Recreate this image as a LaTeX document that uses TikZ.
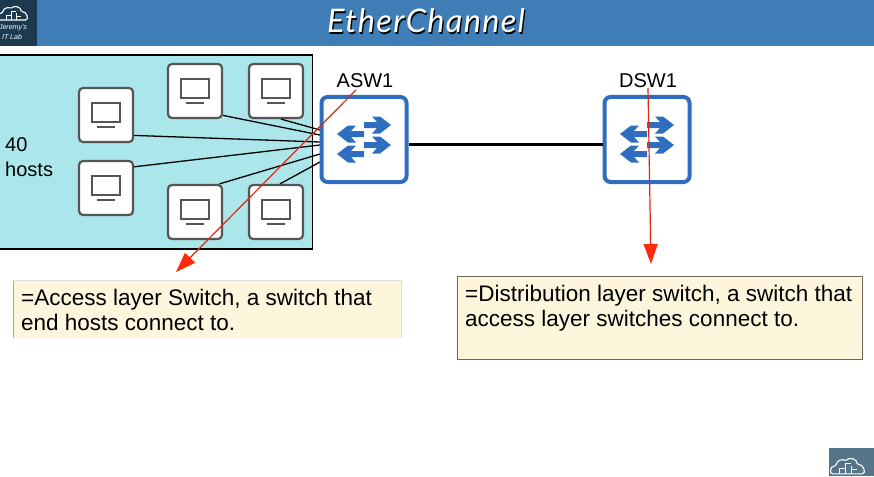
\documentclass[tikz,border=0pt]{standalone}
\usepackage{fontspec}
\setmainfont{Liberation Sans}
\newfontfamily\titlef[LetterSpace=4]{Lato}
\usetikzlibrary{arrows.meta}
\definecolor{hdr}{HTML}{3F7DB6}
\definecolor{logod}{HTML}{1B3A50}
\definecolor{logol}{HTML}{567488}
\definecolor{panel}{HTML}{ABE6EB}
\definecolor{hostc}{HTML}{555555}
\definecolor{swc}{HTML}{2F6DBE}
\definecolor{redl}{HTML}{E0280F}
\definecolor{redh}{HTML}{FF2A0A}
\definecolor{note}{HTML}{FEF6DC}
\tikzset{
  x=1pt,y=-1pt,
  hostbox/.style={draw=hostc,line width=2.2pt,fill=white,rounded corners=4pt,minimum width=54pt,minimum height=54pt,inner sep=0pt},
  swbox/.style={draw=swc,line width=4pt,fill=white,rounded corners=6pt,minimum width=85pt,minimum height=85pt,inner sep=0pt},
  link/.style={draw=black,line width=1.3pt},
  trunk/.style={draw=black,line width=3pt},
  callout/.style={draw=redl,line width=1.2pt,-{Triangle[length=20pt,width=14pt,color=redh]}},
  lbl/.style={font=\fontsize{20}{25}\selectfont,inner sep=0pt,text=black},
  notetext/.style={font=\fontsize{22.5}{25}\selectfont,inner sep=0pt,anchor=north west,align=left,text=black},
  pics/screen/.style={code={
    \draw[hostc,line width=1.6pt,fill=white] (-14,-12) rectangle (14,7);
    \draw[hostc,line width=1.6pt] (-9,12) -- (9,12);
  }},
  pics/swarrows/.style={code={
    \fill[swc] (44,26) -- (57,26) -- (52,20.5) -- (60,20.5) -- (71,29) -- (60,37.5) -- (52,37.5) -- (57,32) -- (44,32) -- cycle;
    \fill[swc] (44,46) -- (57,46) -- (52,40.5) -- (60,40.5) -- (71,49) -- (60,57.5) -- (52,57.5) -- (57,52) -- (44,52) -- cycle;
    \fill[swc] (44,35) -- (31,35) -- (36,29.5) -- (28,29.5) -- (17,38) -- (28,46.5) -- (36,46.5) -- (31,41) -- (44,41) -- cycle;
    \fill[swc] (44,55) -- (31,55) -- (36,49.5) -- (28,49.5) -- (17,58) -- (28,66.5) -- (36,66.5) -- (31,61) -- (44,61) -- cycle;
  }},
  pics/cloud/.style={code={
    \draw[white,line width=1.1pt,rounded corners=1.5pt] (-13,6) .. controls (-17,6) and (-17,-1) .. (-11,-1) .. controls (-11,-6) and (-5,-7) .. (-3,-5) .. controls (0,-9) and (7,-7) .. (7,-2) .. controls (12,-3) and (16,6) .. (10,6) -- cycle;
    \draw[white,line width=.8pt] (-8,6) -- (-8,1) -- (-3,1) (-3,6) -- (-3,-3) -- (2,-3) (2,6) -- (2,-1) (2,2) -- (7,2);
  }}
}
\begin{document}
\begin{tikzpicture}
\clip (0,0) rectangle (874,476);
\fill[white] (0,0) rectangle (874,476);
% header
\fill[hdr] (0,0) rectangle (874,46);
\fill[logod] (0,0) rectangle (37,46);
\pic at (14,14) {cloud};
\node[font=\fontsize{7}{9}\selectfont\itshape,text=white,inner sep=0pt] (logoname) at (13,28) {Jeremy's};
\node[font=\fontsize{7}{9}\selectfont\itshape,text=white,inner sep=0pt] (logolab) at (12,37) {IT Lab};
\node[font=\fontsize{32.5}{32}\titlef\itshape,text=black,inner sep=0pt] (titleshadow) at (427.2,22.2) {EtherChannel};
\node[font=\fontsize{32.5}{32}\titlef\itshape,text=white,inner sep=0pt] (title) at (426,21) {EtherChannel};
% host panel
\draw[draw=black,line width=1.4pt,fill=panel] (-5,55) rectangle (312.5,249);
\node[lbl,anchor=west,align=left] (hostcount) at (5,157.5) {40\\hosts};
% switches
\coordinate (p1) at (320,142);
\coordinate (p2) at (320,145);
\coordinate (p3) at (320,135);
\coordinate (p4) at (320,130);
\coordinate (p5) at (320,154);
\coordinate (p6) at (320,162);
\node[hostbox] (h1) at (106,115) {};
\node[hostbox] (h2) at (106,188) {};
\node[hostbox] (h3) at (195,91) {};
\node[hostbox] (h4) at (276,91) {};
\node[hostbox] (h5) at (195,212) {};
\node[hostbox] (h6) at (276,212) {};
\draw[link] (h1.-36) -- (p1);
\draw[link] (h2.37) -- (p2);
\draw[link] (h3.-41) -- (p3);
\draw[link] (h4.-80) -- (p4);
\draw[link] (h5.49) -- (p5);
\draw[link] (h6.82) -- (p6);
\pic at (h1) {screen};
\pic at (h2) {screen};
\pic at (h3) {screen};
\pic at (h4) {screen};
\pic at (h5) {screen};
\pic at (h6) {screen};
\node[swbox] (asw) at (364,139.5) {};
\node[swbox] (dsw) at (647,139.5) {};
\draw[trunk] (asw.-7.5) -- (dsw.187.5);
\pic at (320,96) {swarrows};
\pic at (603,96) {swarrows};
\node[lbl] (aswl) at (365,81) {ASW1};
\node[lbl] (dswl) at (648,81) {DSW1};
% notes
\node[draw=none,fill=note,minimum width=388pt,minimum height=58pt,inner sep=0pt,anchor=north west] (n1) at (13,280) {};
\draw[gray!70,line width=.6pt] (n1.north west) -- (n1.south west);
\draw[gray!25,line width=.6pt] (n1.north west) -- (n1.north east) -- (n1.south east);
\node[notetext] (n1t) at (21,288.5) {=Access layer Switch, a switch that\\end hosts connect to.};
\node[draw={rgb,255:red,110;green,104;blue,88},line width=.7pt,fill=note,minimum width=405pt,minimum height=83pt,inner sep=0pt,anchor=north west] (n2) at (457,276) {};
\node[notetext] (n2t) at (465,284.5) {=Distribution layer switch, a switch that\\access layer switches connect to.};
% callouts
\coordinate (a1) at (356,90);
\coordinate (a2) at (176,272);
\coordinate (d1) at (648,88);
\coordinate (d2) at (651,264);
\draw[callout] (a1) -- (a2);
\draw[callout] (d1) -- (d2);
% footer logo
\fill[logol] (829,448) rectangle (874,476);
\pic[scale=1.15] at (849,467) {cloud};
\end{tikzpicture}
\end{document}
